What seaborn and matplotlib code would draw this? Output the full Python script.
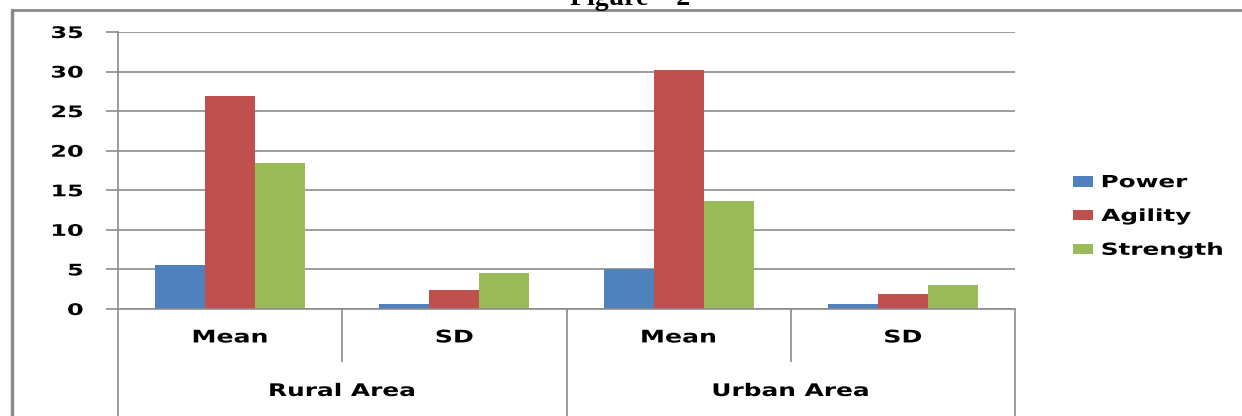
import pandas as pd
import matplotlib
matplotlib.use("Agg")
import matplotlib.pyplot as plt
import seaborn as sns
from matplotlib.lines import Line2D
from matplotlib.patheffects import AbstractPathEffect
from matplotlib.transforms import Affine2D

# data
areas = ["Rural Area", "Rural Area", "Urban Area", "Urban Area"]
stats = ["Mean", "SD", "Mean", "SD"]
power = [5.6, 0.6, 5.0, 0.6]
agility = [26.9, 2.4, 30.2, 1.9]
strength = [18.4, 4.5, 13.7, 3.0]
measures = ["Power", "Agility", "Strength"]
colors = ["#4F81BD", "#C0504D", "#9BBB59"]
yticks = [0, 5, 10, 15, 20, 25, 30, 35]


class Stretch(AbstractPathEffect):
    # widen glyphs horizontally, the reference text looks stretched
    def __init__(self, sx=1.45, anchor="center"):
        super().__init__()
        self.sx = sx
        self.anchor = anchor

    def draw_path(self, renderer, gc, tpath, affine, rgbFace=None):
        ext = tpath.get_extents()
        a = {"left": ext.x0, "right": ext.x1}.get(self.anchor, (ext.x0 + ext.x1) / 2)
        t = Affine2D().translate(-a, 0).scale(self.sx, 1).translate(a, 0)
        renderer.draw_path(gc, tpath, t + affine, rgbFace)


keys = [a + "|" + s for a, s in zip(areas, stats)]
rows = []
for name, vals in zip(measures, [power, agility, strength]):
    for k, v in zip(keys, vals):
        rows.append({"group": k, "measure": name, "value": v})
df = pd.DataFrame(rows)

sns.set_style("white")
plt.rcParams["font.family"] = ["DejaVu Sans"]
plt.rcParams["text.color"] = "black"

fig = plt.figure(figsize=(12.42, 4.16), dpi=100)
ax = fig.add_axes([118 / 1242, 107 / 416, (1015 - 118) / 1242, 277 / 416])

sns.barplot(data=df, x="group", y="value", hue="measure", order=keys,
            hue_order=measures, palette=colors, width=0.67, ax=ax,
            edgecolor="none", saturation=1, legend=True)

grid_c = "#8C8C8C"
ax.set_ylim(0, 35)
ax.set_xlim(-0.5, 3.5)
ax.set_yticks(yticks)
ylabs = ax.set_yticklabels([str(t) for t in yticks], fontsize=11.5,
                           fontweight="bold", color="black")
for t in ylabs:
    t.set_path_effects([Stretch(1.5, "right")])
ax.yaxis.grid(True, color=grid_c, lw=1.2)
ax.set_axisbelow(True)
ax.tick_params(axis="y", direction="out", length=9, width=1.2, color=grid_c, pad=16, left=True)
ax.set_xticks(range(len(keys)))
xlabs = ax.set_xticklabels(stats, fontsize=12.5, fontweight="bold", color="black")
for t in xlabs:
    t.set_path_effects([Stretch(1.45, "center")])
ax.tick_params(axis="x", length=0, pad=14)
ax.set_xlabel("")
ax.set_ylabel("")
for s in ["top", "right"]:
    ax.spines[s].set_visible(False)
for s in ["left", "bottom"]:
    ax.spines[s].set_color(grid_c)
    ax.spines[s].set_linewidth(1.2)

# category dividers below the axis
tr = ax.get_xaxis_transform()
ax.vlines([0.5, 2.5], -53 / 277, 0, color=grid_c, lw=1.2, transform=tr, clip_on=False)
ax.vlines([-0.5, 1.5, 3.5], -110 / 277, 0, color=grid_c, lw=1.2, transform=tr, clip_on=False)
for x, lab in [(0.5, "Rural Area"), (2.5, "Urban Area")]:
    ax.text(x, -82 / 277, lab, transform=tr, ha="center", va="center",
            fontsize=12.5, fontweight="bold", path_effects=[Stretch(1.43, "center")])

# legend on the right
handles, labels = ax.get_legend_handles_labels()
ax.get_legend().remove()
leg = fig.legend(handles, labels, loc="center left", bbox_to_anchor=(1058 / 1242, 1 - 216 / 416),
                 frameon=False, prop={"size": 12, "weight": "bold"}, handlelength=1.2,
                 handleheight=0.6, handletextpad=0.5, labelspacing=0.95)
for t in leg.get_texts():
    t.set_path_effects([Stretch(1.48, "left")])

# outer frame and clipped title
fig.add_artist(Line2D([12 / 1242, 1], [1 - 10 / 416, 1 - 10 / 416], color="#8A8A8A", lw=2))
fig.add_artist(Line2D([12 / 1242, 12 / 1242], [0, 1 - 10 / 416], color="#8A8A8A", lw=2.5))
fig.text(630 / 1242, 1 - 5 / 416, "Figure \u2013 2", ha="center", va="baseline",
         fontsize=20, fontweight="bold", family=["Liberation Serif", "DejaVu Serif"])

fig.savefig("out.png", dpi=100)
